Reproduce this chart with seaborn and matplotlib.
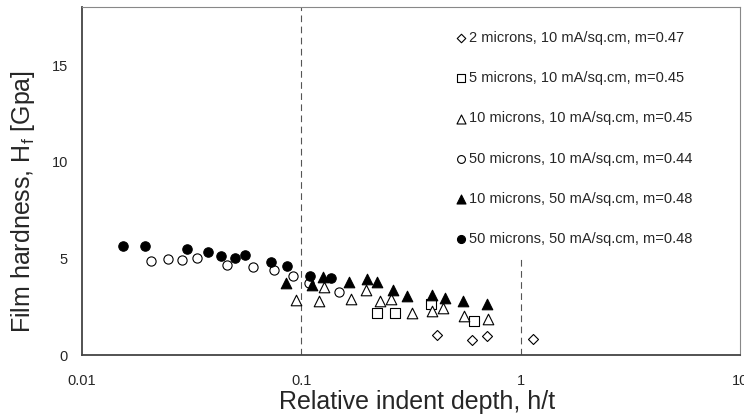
import matplotlib
matplotlib.use("Agg")
import matplotlib.pyplot as plt
import seaborn as sns
import pandas as pd
import numpy as np

# data (h/t, hardness in GPa)
x_2um_10 = [0.418, 0.601, 0.703, 1.138]
y_2um_10 = [1.03, 0.80, 0.97, 0.84]

x_5um_10 = [0.2226, 0.267, 0.390, 0.6115]
y_5um_10 = [2.16, 2.16, 2.65, 1.77]

x_10um_10 = [0.0942, 0.1204, 0.1265, 0.168, 0.197, 0.2287, 0.256, 0.3185, 0.3926, 0.4413, 0.554, 0.711]
y_10um_10 = [2.85, 2.79, 3.53, 2.92, 3.36, 2.81, 2.90, 2.16, 2.30, 2.42, 2.04, 1.86]

x_50um_10 = [0.0207, 0.0248, 0.0286, 0.0334, 0.0461, 0.0601, 0.0755, 0.0918, 0.1084, 0.1486]
y_50um_10 = [4.86, 4.97, 4.91, 5.03, 4.66, 4.57, 4.40, 4.09, 3.71, 3.24]

x_10um_50 = [0.0848, 0.112, 0.126, 0.165, 0.199, 0.2226, 0.2607, 0.305, 0.3926, 0.451, 0.546, 0.703]
y_10um_50 = [3.71, 3.62, 4.05, 3.76, 3.93, 3.76, 3.36, 3.05, 3.08, 2.95, 2.77, 2.64]

x_50um_50 = [0.01535, 0.0194, 0.0303, 0.0376, 0.0431, 0.0501, 0.0556, 0.0730, 0.0857, 0.1094, 0.136]
y_50um_50 = [5.65, 5.65, 5.47, 5.31, 5.14, 5.00, 5.17, 4.81, 4.62, 4.09, 4.00]

labels = [
    "2 microns, 10 mA/sq.cm, m=0.47",
    "5 microns, 10 mA/sq.cm, m=0.45",
    "10 microns, 10 mA/sq.cm, m=0.45",
    "50 microns, 10 mA/sq.cm, m=0.44",
    "10 microns, 50 mA/sq.cm, m=0.48",
    "50 microns, 50 mA/sq.cm, m=0.48",
]
xs = [x_2um_10, x_5um_10, x_10um_10, x_50um_10, x_10um_50, x_50um_50]
ys = [y_2um_10, y_5um_10, y_10um_10, y_50um_10, y_10um_50, y_50um_50]
markers = ["D", "s", "^", "o", "^", "o"]
faces = ["white", "white", "white", "white", "black", "black"]
sizes = [26, 45, 58, 44, 58, 46]

sns.set_style("white")
plt.rcParams["font.family"] = ["Liberation Sans", "DejaVu Sans"]

fig = plt.figure(figsize=(7.44, 4.19), dpi=100)
ax = fig.add_axes([0.110, 0.1527, 0.8846, 0.8306])

for xv, yv, lab, mk, fc, sz in zip(xs, ys, labels, markers, faces, sizes):
    df = pd.DataFrame({"x": xv, "y": yv})
    sns.scatterplot(data=df, x="x", y="y", ax=ax, marker=mk, s=sz,
                    facecolor=fc, edgecolor="black", linewidth=0.8, label=lab)

# reference lines at h/t = 0.1 and 1
ax.plot([0.1, 0.1], [0, 18], color="#555555", linestyle=(0, (6, 4)), linewidth=0.8, zorder=0)
ax.plot([1, 1], [0, 5], color="#555555", linestyle=(0, (6, 4)), linewidth=0.8, zorder=0)

ax.set_xscale("log")
ax.set_xlim(0.01, 10)
ax.set_ylim(0, 18)
ax.set_xticks([0.01, 0.1, 1, 10])
ax.set_xticklabels(["0.01", "0.1", "1", "10"])
ax.set_yticks([0, 5, 10, 15])
ax.minorticks_off()
ax.tick_params(axis="x", direction="in", length=4, labelsize=10.5, pad=13.5, color="#444444")
ax.tick_params(axis="y", direction="out", length=4, labelsize=10.5, pad=6, color="#444444")

for side in ["left", "bottom"]:
    ax.spines[side].set_color("#444444")
    ax.spines[side].set_linewidth(1.3)
for side in ["top", "right"]:
    ax.spines[side].set_color("#888888")
    ax.spines[side].set_linewidth(0.8)

ax.set_xlabel("Relative indent depth, h/t", fontsize=18)
ax.set_ylabel("Film hardness, H$_\\mathregular{f}$ [Gpa]", fontsize=18)
ax.yaxis.set_label_coords(-0.068, 0.44)
ax.xaxis.set_label_coords(0.51, -0.10)

ax.legend(loc="upper left", bbox_to_anchor=(0.556, 0.952), frameon=False,
          fontsize=10.5, labelspacing=1.8, handletextpad=0.15, handlelength=0.8,
          borderpad=0, markerscale=0.85)

fig.savefig("out.png", dpi=100)
